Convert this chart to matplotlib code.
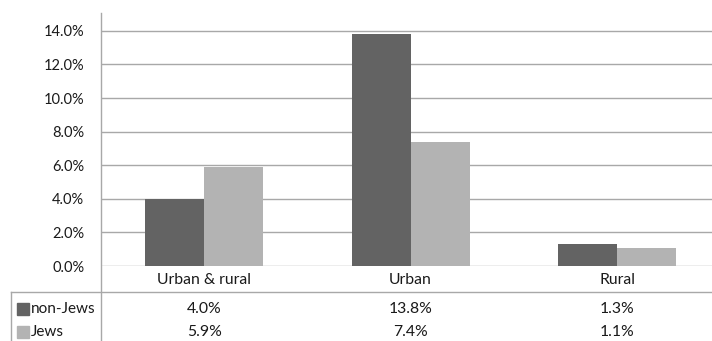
import numpy as np
import matplotlib.pyplot as plt
from matplotlib.lines import Line2D
from matplotlib.patches import Rectangle
from matplotlib.ticker import PercentFormatter

# data
categories = ['Urban & rural', 'Urban', 'Rural']
series_names = ['non-Jews', 'Jews']
non_jews = [4.0, 13.8, 1.3]
jews = [5.9, 7.4, 1.1]
colors = ['#636363', '#b3b3b3']

plt.rcParams['font.family'] = ['Lato', 'DejaVu Sans']

W, H = 712, 341
fig = plt.figure(figsize=(W / 100, H / 100), dpi=100)

def fx(px):
    return px / W

def fy(py):
    return 1 - py / H

# plot area in pixel coords
left, right, top, base = 101, 712, 13, 266
ax = fig.add_axes([fx(left), fy(base), fx(right - left), (base - top) / H])

x = np.arange(len(categories))
bw = 0.286
ax.bar(x - bw / 2, non_jews, bw, color=colors[0], zorder=3)
ax.bar(x + bw / 2, jews, bw, color=colors[1], zorder=3)

ax.set_xlim(-0.5, 2.46)
ax.set_ylim(0, 15.06)
ax.set_yticks(np.arange(0, 15, 2))
ax.yaxis.set_major_formatter(PercentFormatter(decimals=1))
ax.grid(axis='y', color='#a8a8a8', lw=1, zorder=0)
ax.set_xticks([])
ax.tick_params(axis='y', length=0, pad=12, labelsize=10.5, labelcolor='#1a1a1a')
for s in ['top', 'right', 'bottom', 'left']:
    ax.spines[s].set_visible(False)

# table lines
line_c = '#a8a8a8'
fig.add_artist(Line2D([fx(left), fx(left)], [fy(top), fy(H)], color=line_c, lw=1))
fig.add_artist(Line2D([fx(11), fx(W)], [fy(292), fy(292)], color=line_c, lw=1))
fig.add_artist(Line2D([fx(11), fx(11)], [fy(292), fy(H)], color=line_c, lw=1))

fs = 11.3
# category labels
for i, c in enumerate(categories):
    xc = ax.transData.transform((i, 0))[0] / W
    fig.text(xc, fy(280), c, ha='center', va='center', fontsize=fs, color='#1a1a1a')

# table rows
rows = [non_jews, jews]
row_y = [309, 332]
for r, (name, vals, yy) in enumerate(zip(series_names, rows, row_y)):
    fig.add_artist(Rectangle((fx(17), fy(yy + 6)), fx(12), 12 / H,
                             color=colors[r], transform=fig.transFigure))
    fig.text(fx(31), fy(yy), name, ha='left', va='center', fontsize=fs - 0.3,
             color='#1a1a1a')
    for i, v in enumerate(vals):
        xc = ax.transData.transform((i, 0))[0] / W
        fig.text(xc, fy(yy), f'{v:.1f}%', ha='center', va='center', fontsize=fs,
                 color='#1a1a1a')

fig.savefig('out.png', dpi=100)
